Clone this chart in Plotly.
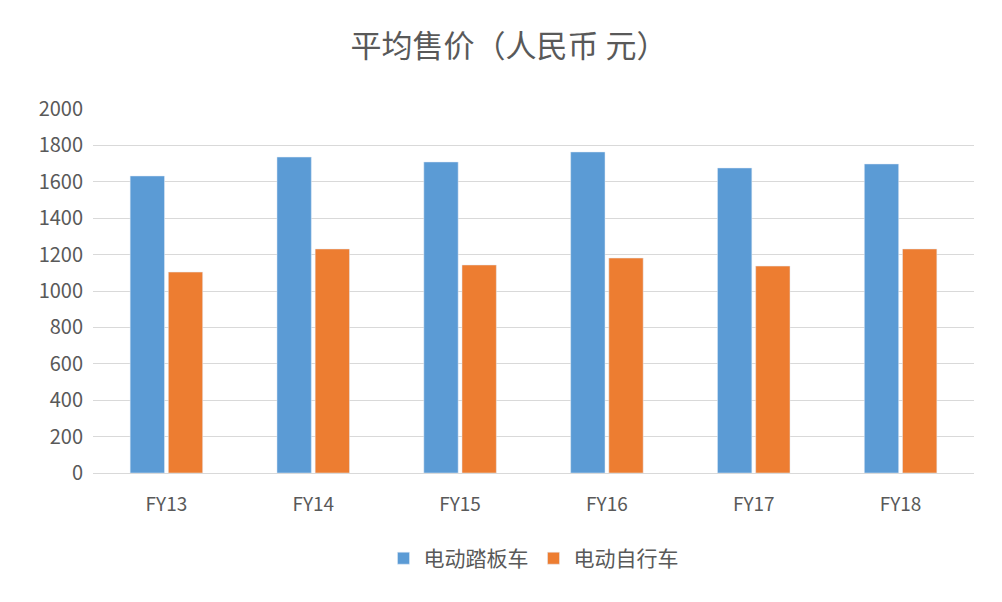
import plotly.graph_objects as go

categories = ["FY13", "FY14", "FY15", "FY16", "FY17", "FY18"]
scooter = [1632, 1736, 1709, 1764, 1676, 1698]
ebike = [1104, 1231, 1143, 1181, 1137, 1231]
series_names = ["电动踏板车", "电动自行车"]

font = "Noto Sans CJK SC"
fig = go.Figure()
fig.add_bar(x=categories, y=scooter, name=series_names[0], marker_color="#5B9BD5")
fig.add_bar(x=categories, y=ebike, name=series_names[1], marker_color="#ED7D31")
fig.update_layout(
    width=1002, height=602,
    paper_bgcolor="white", plot_bgcolor="white",
    font=dict(family=font, color="#595959", size=17),
    title=dict(text="平均售价（人民币 元）", x=0.5, xanchor="center", y=0.955,
               font=dict(size=31, color="#595959", family=font)),
    margin=dict(l=85, r=36, t=101, b=137),
    barmode="group", bargap=0.48, bargroupgap=0.1,
    legend=dict(orientation="h", x=0.5, xanchor="center", y=-0.235, yanchor="middle",
                font=dict(size=21, color="#595959")),
    xaxis=dict(showline=True, linecolor="#D9D9D9", ticks="outside", ticklen=14,
               tickcolor="rgba(0,0,0,0)", tickfont=dict(size=19)),
    yaxis=dict(range=[0, 2000], dtick=200, gridcolor="#D9D9D9", showline=False,
               zeroline=False, tickfont=dict(size=20), ticksuffix="  "),
)
fig.write_html("out.html")
